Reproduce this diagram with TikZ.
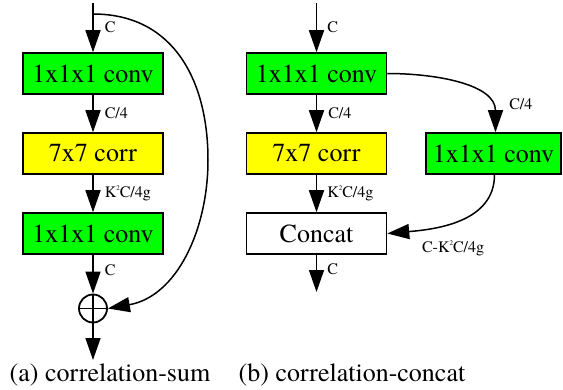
\documentclass[tikz,border=0pt]{standalone}
\usepackage{fontspec}
\setmainfont{TeX Gyre Termes}
\usepackage{xcolor}
\usetikzlibrary{arrows.meta}

\definecolor{convgreen}{RGB}{0,255,0}
\definecolor{corryellow}{RGB}{255,255,0}
\newcommand{\ksq}{K\raisebox{0.9ex}{\fontsize{7}{7}\selectfont 2}C/4g}

\begin{document}
\begin{tikzpicture}[
            x=1pt, y=1pt,
            % distancia entre centros de bloques
            node distance=80pt,
            block/.style={rectangle, draw, line width=1.5pt, minimum width=140pt, minimum height=41pt, inner sep=0pt, font=\fontsize{26}{30}\selectfont},
            conv/.style={block, fill=convgreen},
            corr/.style={block, fill=corryellow},
            lbl/.style={font=\fontsize{16}{18}\selectfont, inner sep=1pt},
            line/.style={draw, line width=1.5pt, -{Triangle[length=22pt,width=15pt]}}
        ]
            \useasboundingbox (0,0) rectangle (563,389);

            % (a) correlation-sum
            \coordinate (ain) at (93,386);
            \coordinate (askip) at (93,375);
            \node [conv] (aconv1) at (93,315.5) {1x1x1 conv};
            \node [corr, below of=aconv1] (acorr) {7x7 corr};
            \node [conv, below of=acorr] (aconv2) {1x1x1 conv};
            \node [circle, draw, line width=1.8pt, minimum size=28pt, inner sep=0pt, below of=aconv2, node distance=75pt,
                   path picture={\draw[line width=1.8pt] (path picture bounding box.north) -- (path picture bounding box.south)
                                 (path picture bounding box.west) -- (path picture bounding box.east);}] (asum) {};
            \coordinate (aout) at (93,29);

            \path [line] (ain) -- node[lbl, anchor=west, xshift=10pt] {C} (aconv1);
            \path [line] (aconv1) -- node[lbl, anchor=west, xshift=10pt] {C/4} (acorr);
            \path [line] (acorr) -- node[lbl, anchor=west, xshift=10pt] {\ksq} (aconv2);
            \path [line] (aconv2) -- node[lbl, anchor=west, xshift=10pt, pos=0.4] {C} (asum);
            \path [line] (asum) -- (aout);
            \path [line] (askip) to[out=0, in=90, looseness=1.1] (208,229) to[out=-90, in=10] (asum.east);

            % (b) correlation-concat
            \coordinate (bin) at (316.5,386);
            \node [conv] (bconv1) at (316.5,315.5) {1x1x1 conv};
            \node [corr, below of=bconv1] (bcorr) {7x7 corr};
            \node [block, below of=bcorr] (bcat) {Concat};
            \node [conv, minimum width=135pt, right of=bcorr, node distance=177pt] (bconv2) {1x1x1 conv};
            \coordinate (bout) at (316.5,97);

            \path [line] (bin) -- node[lbl, anchor=west, xshift=9pt] {C} (bconv1);
            \path [line] (bconv1) -- node[lbl, anchor=west, xshift=10pt] {C/4} (bcorr);
            \path [line] (bcorr) -- node[lbl, anchor=west, xshift=9pt] {\ksq} (bcat);
            \path [line] (bcat) -- node[lbl, anchor=west, xshift=9pt, pos=0.4] {C} (bout);
            \path [line] (bconv1.east) to[out=0, in=90] node[lbl, at end, anchor=west, xshift=12pt, yshift=28pt] {C/4} ([xshift=2pt]bconv2.north);
            \path [line] ([xshift=1pt]bconv2.south) to[out=-90, in=5] node[lbl, at end, anchor=west, xshift=33pt, yshift=-15pt] {C-\ksq} (bcat.east);

            % leyendas
            \node [font=\fontsize{26}{30}\selectfont] (capa) at (110,14) {(a) correlation-sum};
            \node [font=\fontsize{26}{30}\selectfont] (capb) at (352,14) {(b) correlation-concat};
        \end{tikzpicture}
\end{document}
